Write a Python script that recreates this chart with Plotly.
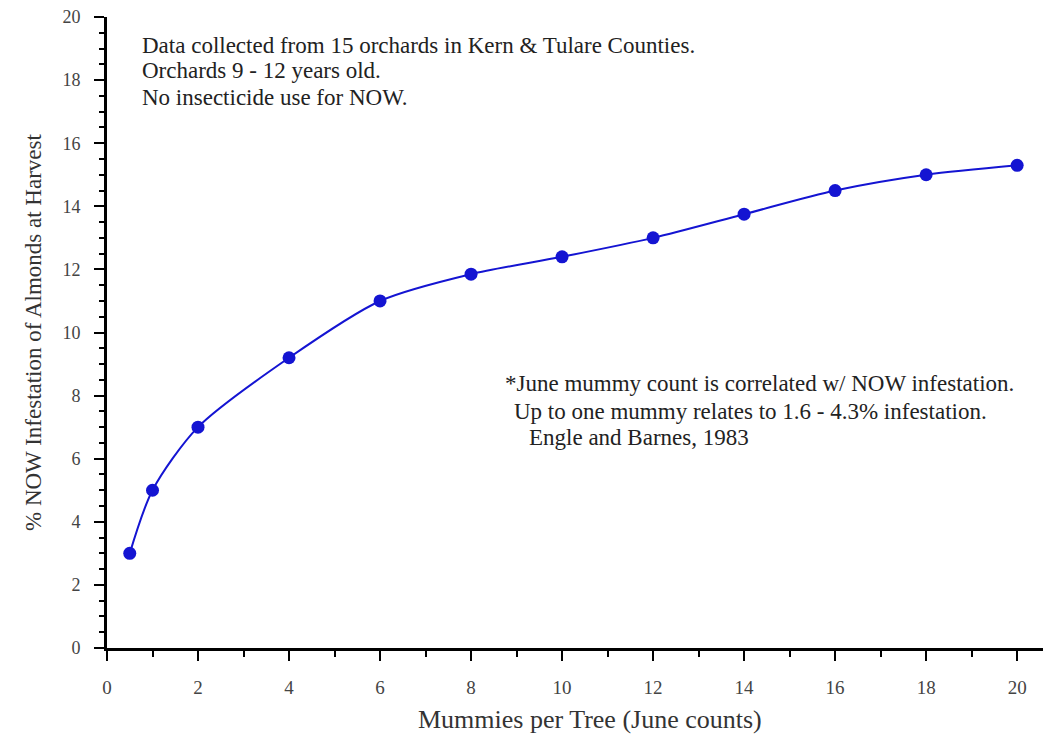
import plotly.graph_objects as go

mummies = [0.5, 1, 2, 4, 6, 8, 10, 12, 14, 16, 18, 20]
infestation = [3.0, 5.0, 7.0, 9.2, 11.0, 11.85, 12.4, 13.0, 13.75, 14.5, 15.0, 15.3]
y_ticks = [0, 2, 4, 6, 8, 10, 12, 14, 16, 18, 20]
x_ticks = [0, 2, 4, 6, 8, 10, 12, 14, 16, 18, 20]

note_top = [
    "Data collected from 15 orchards in Kern & Tulare Counties.",
    "Orchards 9 - 12 years old.",
    "No insecticide use for NOW.",
]
note_right = [
    "*June mummy count is correlated w/ NOW infestation.",
    "Up to one mummy relates to 1.6 - 4.3% infestation.",
    "Engle and Barnes, 1983",
]
top_x = [0.73, 0.73, 0.73]
top_y = [19.1, 18.3, 17.45]
right_x = [8.7, 8.9, 9.23]
right_y = [8.37, 7.51, 6.66]

font_family = "Liberation Serif, Times New Roman, serif"
blue = "#1414d2"

fig = go.Figure()
fig.add_trace(go.Scatter(
    x=mummies, y=infestation, mode="lines+markers",
    line=dict(color=blue, width=2, shape="spline", smoothing=0.8),
    marker=dict(color=blue, size=13),
    showlegend=False,
))

annotations = []
for t, x, y in zip(note_top, top_x, top_y):
    annotations.append(dict(x=x, y=y, xref="x", yref="y", text=t, showarrow=False,
                            xanchor="left", yanchor="middle",
                            font=dict(family=font_family, size=23, color="#222")))
for t, x, y in zip(note_right, right_x, right_y):
    annotations.append(dict(x=x, y=y, xref="x", yref="y", text=t, showarrow=False,
                            xanchor="left", yanchor="middle",
                            font=dict(family=font_family, size=23, color="#222")))

annotations.append(dict(x=-0.078, y=0.5, xref="paper", yref="paper",
                        text="% NOW Infestation of Almonds at Harvest", showarrow=False,
                        textangle=-90, xanchor="center", yanchor="middle",
                        font=dict(family=font_family, size=23, color="#333")))
annotations.append(dict(x=0.513, y=-0.114, xref="paper", yref="paper",
                        text="Mummies per Tree (June counts)", showarrow=False,
                        xanchor="center", yanchor="middle",
                        font=dict(family=font_family, size=26, color="#333")))

fig.update_layout(
    width=1051, height=737,
    margin=dict(l=99, r=10, t=9, b=97),
    paper_bgcolor="white", plot_bgcolor="white",
    font=dict(family=font_family, color="#333"),
    annotations=annotations,
    xaxis=dict(
        range=[0, 20.7], tickmode="array", tickvals=x_ticks,
        showgrid=False, zeroline=False, showline=True, linecolor="black", linewidth=3,
        ticks="outside", ticklen=10, tickwidth=2, tickcolor="black",
        tickfont=dict(size=19, color="#444"), automargin=False, ticklabelstandoff=10,
        ticklabeloverflow="allow",
        minor=dict(dtick=1, ticks="outside", ticklen=6, tickwidth=2, tickcolor="black"),
    ),
    yaxis=dict(
        range=[0, 20.001], tickmode="array", tickvals=y_ticks,
        showgrid=False, zeroline=False, showline=True,
        linecolor="black", linewidth=3,
        ticks="outside", ticklen=10, tickwidth=2, tickcolor="black",
        tickfont=dict(size=18, color="#444"), automargin=False, ticklabelstandoff=10,
        ticklabeloverflow="allow",
        minor=dict(dtick=0.5, ticks="outside", ticklen=5, tickwidth=2, tickcolor="black"),
    ),
)

fig.write_html("out.html")
